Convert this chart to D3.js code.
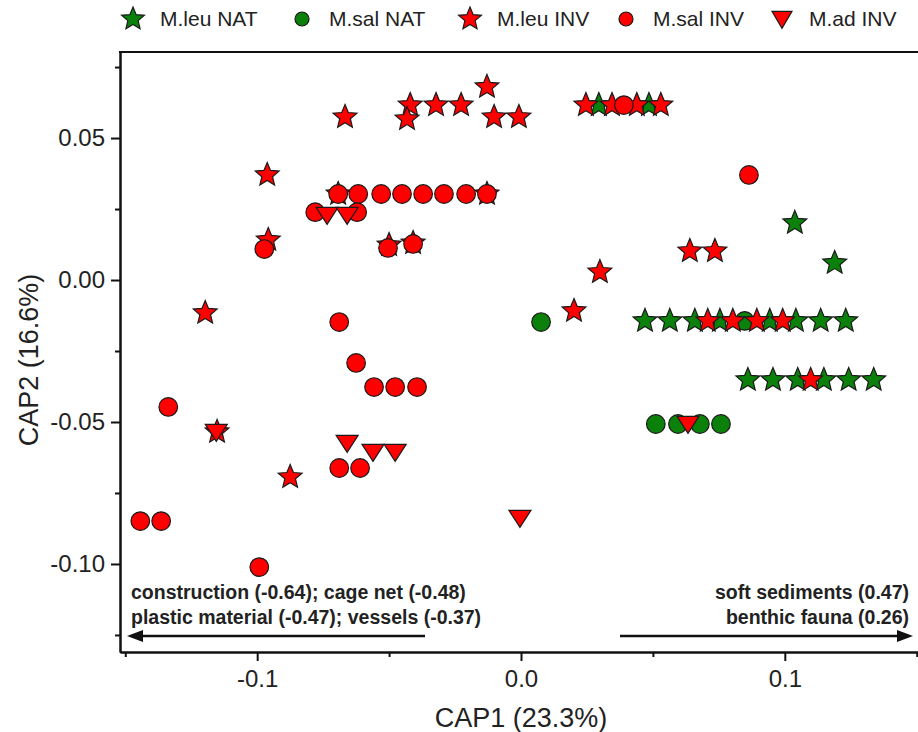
<!DOCTYPE html>
<html>
<head>
<meta charset="utf-8">
<script src="https://cdnjs.cloudflare.com/ajax/libs/d3/7.8.5/d3.min.js"></script>
<style>
  body { margin: 0; background: #fff; }
  svg { display: block; font-family: "Liberation Sans", Arial, sans-serif; }
</style>
</head>
<body>
<svg id="chart" width="918" height="732"></svg>
<script>
// CAP scores: [CAP1, CAP2]
var leuNat = [
  [0.0295, 0.0616], [0.0485, 0.0616],
  [0.1038, 0.0201], [0.1189, 0.0060],
  [0.0470, -0.0144], [0.0564, -0.0144], [0.0659, -0.0144], [0.0754, -0.0144],
  [0.0943, -0.0144], [0.1042, -0.0144], [0.1136, -0.0144], [0.1231, -0.0144],
  [0.0860, -0.0352], [0.0955, -0.0352], [0.1049, -0.0352], [0.1148, -0.0352],
  [0.1242, -0.0352], [0.1337, -0.0352]
];
var salNat = [
  [0.0076, -0.0148], [0.0848, -0.0144],
  [0.0511, -0.0507], [0.0595, -0.0507], [0.0678, -0.0507], [0.0758, -0.0507]
];
var leuInv = [
  [-0.0129, 0.0680], [-0.0420, 0.0616], [-0.0322, 0.0616], [-0.0227, 0.0616],
  [-0.0432, 0.0567], [-0.0667, 0.0574], [-0.0102, 0.0574], [-0.0008, 0.0574],
  [0.0246, 0.0616], [0.0345, 0.0616], [0.0439, 0.0616], [0.0530, 0.0616],
  [-0.0962, 0.0370], [-0.0958, 0.0141], [-0.1197, -0.0116], [-0.1152, -0.0535],
  [-0.0875, -0.0694],
  [-0.0693, 0.0303], [-0.0129, 0.0303], [-0.0500, 0.0123], [-0.0409, 0.0130],
  [0.0640, 0.0102], [0.0735, 0.0102], [0.0299, 0.0028], [0.0201, -0.0109],
  [0.0708, -0.0144], [0.0803, -0.0144], [0.0894, -0.0144], [0.0992, -0.0144],
  [0.1098, -0.0352]
];
var salInv = [
  [-0.0693, 0.0303], [-0.0617, 0.0303], [-0.0530, 0.0303], [-0.0451, 0.0303],
  [-0.0371, 0.0303], [-0.0292, 0.0303], [-0.0208, 0.0303], [-0.0129, 0.0303],
  [-0.0780, 0.0239], [-0.0621, 0.0239],
  [-0.0973, 0.0109], [-0.0504, 0.0113], [-0.0409, 0.0127],
  [0.0390, 0.0616], [0.0864, 0.0370],
  [-0.0689, -0.0148], [-0.0625, -0.0292], [-0.0557, -0.0377], [-0.0477, -0.0377],
  [-0.0394, -0.0377], [-0.1337, -0.0447], [-0.0689, -0.0662], [-0.0610, -0.0662],
  [-0.1443, -0.0849], [-0.1364, -0.0849], [-0.0992, -0.1011]
];
var adInv = [
  [-0.0735, 0.0229], [-0.0659, 0.0229], [-0.1155, -0.0535], [-0.0659, -0.0574],
  [-0.0561, -0.0606], [-0.0477, -0.0606], [-0.0004, -0.0838], [0.0633, -0.0507]
];

var seriesNames = ["M.leu NAT", "M.sal NAT", "M.leu INV", "M.sal INV", "M.ad INV"];
var xTicks = [-0.1, 0, 0.1];
var xMinor = [-0.15, -0.05, 0.05, 0.15];
var yTicks = [-0.1, -0.05, 0, 0.05];
var yMinor = [-0.125, -0.075, -0.025, 0.025, 0.075];
var leftNotes = ["construction (-0.64); cage net (-0.48)", "plastic material (-0.47); vessels (-0.37)"];
var rightNotes = ["soft sediments (0.47)", "benthic fauna (0.26)"];

var GREEN = "#0b800b", RED = "#ff0000";

var svg = d3.select("#chart");
var x = d3.scaleLinear().domain([-0.152, 0.152]).range([120, 922]);
var y = d3.scaleLinear().domain([-0.131, 0.0803]).range([652, 52]);

function starPath(R, r) {
  var pts = [];
  for (var i = 0; i < 10; i++) {
    var a = -Math.PI / 2 + i * Math.PI / 5;
    var rad = i % 2 ? r : R;
    pts.push([rad * Math.cos(a), rad * Math.sin(a)]);
  }
  return "M" + pts.join("L") + "Z";
}
function circlePath(r) {
  return "M" + (-r) + ",0A" + r + "," + r + " 0 1,0 " + r + ",0A" + r + "," + r + " 0 1,0 " + (-r) + ",0Z";
}
function triPath(w, h) {
  return "M" + (-w / 2) + "," + (-h * 0.45) + "L" + (w / 2) + "," + (-h * 0.45) + "L0," + (h * 0.55) + "Z";
}

var shapes = {
  star: starPath(12.5, 5.6),
  circle: circlePath(9.3),
  tri: triPath(22, 17)
};

var series = [
  { name: seriesNames[0], data: leuNat, fill: GREEN, shape: "star" },
  { name: seriesNames[1], data: salNat, fill: GREEN, shape: "circle" },
  { name: seriesNames[2], data: leuInv, fill: RED, shape: "star" },
  { name: seriesNames[3], data: salInv, fill: RED, shape: "circle" },
  { name: seriesNames[4], data: adInv, fill: RED, shape: "tri" }
];

// axes
var axisStyle = function (g) {
  g.select(".domain").attr("stroke", "#111").attr("stroke-width", 2);
  g.selectAll(".tick line").attr("stroke", "#111").attr("stroke-width", 2);
  g.selectAll(".tick text").attr("fill", "#222").style("font-size", "24px");
};

svg.append("g").attr("transform", "translate(0,652)")
  .call(d3.axisBottom(x).tickValues(xMinor).tickSize(5).tickSizeOuter(0).tickFormat(""))
  .call(axisStyle);
svg.append("g").attr("transform", "translate(0,652)")
  .call(d3.axisBottom(x).tickValues(xTicks).tickSize(9).tickSizeOuter(0)
    .tickPadding(9).tickFormat(function (d) { return d.toFixed(1); }))
  .call(axisStyle);

svg.append("g").attr("transform", "translate(120,0)")
  .call(d3.axisLeft(y).tickValues(yMinor).tickSize(5).tickSizeOuter(0).tickFormat(""))
  .call(axisStyle);
svg.append("g").attr("transform", "translate(120,0)")
  .call(d3.axisLeft(y).tickValues(yTicks).tickSize(9).tickSizeOuter(0)
    .tickPadding(6).tickFormat(function (d) { return d.toFixed(2); }))
  .call(axisStyle);

// top frame line
svg.append("line").attr("x1", 119).attr("x2", 918).attr("y1", 52).attr("y2", 52)
  .attr("stroke", "#111").attr("stroke-width", 2);

// axis titles
svg.append("text").attr("x", 521).attr("y", 727).attr("text-anchor", "middle")
  .style("font-size", "27px").attr("fill", "#222").text("CAP1 (23.3%)");
svg.append("text").attr("transform", "translate(38,360) rotate(-90)").attr("text-anchor", "middle")
  .style("font-size", "27px").attr("fill", "#222").text("CAP2 (16.6%)");

// points
series.forEach(function (s) {
  svg.append("g").selectAll("path").data(s.data).join("path")
    .attr("d", shapes[s.shape])
    .attr("transform", function (d) { return "translate(" + x(d[0]) + "," + y(d[1]) + ")"; })
    .attr("fill", s.fill).attr("stroke", "#1a1a1a").attr("stroke-width", 1.2);
});

// legend
var legendX = [133, 302, 470, 626, 782];
var legend = svg.append("g").selectAll("g").data(series).join("g")
  .attr("transform", function (d, i) { return "translate(" + legendX[i] + ",19)"; });
legend.append("path")
  .attr("d", function (d) { return d.shape === "circle" ? circlePath(7) : d.shape === "tri" ? triPath(20, 17) : starPath(12, 5.4); })
  .attr("fill", function (d) { return d.fill; }).attr("stroke", "#1a1a1a").attr("stroke-width", 1.2);
legend.append("text").attr("x", 27).attr("y", 7).style("font-size", "21px").attr("fill", "#222")
  .text(function (d) { return d.name; });

// vector annotations
var notes = svg.append("g").style("font-size", "19.5px").style("font-weight", "bold").attr("fill", "#222");
notes.selectAll(".ln").data(leftNotes).join("text").attr("class", "ln")
  .attr("x", 131).attr("y", function (d, i) { return 599 + i * 25; }).text(function (d) { return d; });
notes.selectAll(".rn").data(rightNotes).join("text").attr("class", "rn")
  .attr("x", 909).attr("y", function (d, i) { return 599 + i * 25; }).attr("text-anchor", "end")
  .text(function (d) { return d; });

var arrowY = 636;
svg.append("line").attr("x1", 140).attr("x2", 425).attr("y1", arrowY).attr("y2", arrowY)
  .attr("stroke", "#111").attr("stroke-width", 2.5);
svg.append("path").attr("d", "M127," + arrowY + "L143," + (arrowY - 6) + "L143," + (arrowY + 6) + "Z").attr("fill", "#111");
svg.append("line").attr("x1", 620).attr("x2", 900).attr("y1", arrowY).attr("y2", arrowY)
  .attr("stroke", "#111").attr("stroke-width", 2.5);
svg.append("path").attr("d", "M913," + arrowY + "L897," + (arrowY - 6) + "L897," + (arrowY + 6) + "Z").attr("fill", "#111");
</script>
</body>
</html>
